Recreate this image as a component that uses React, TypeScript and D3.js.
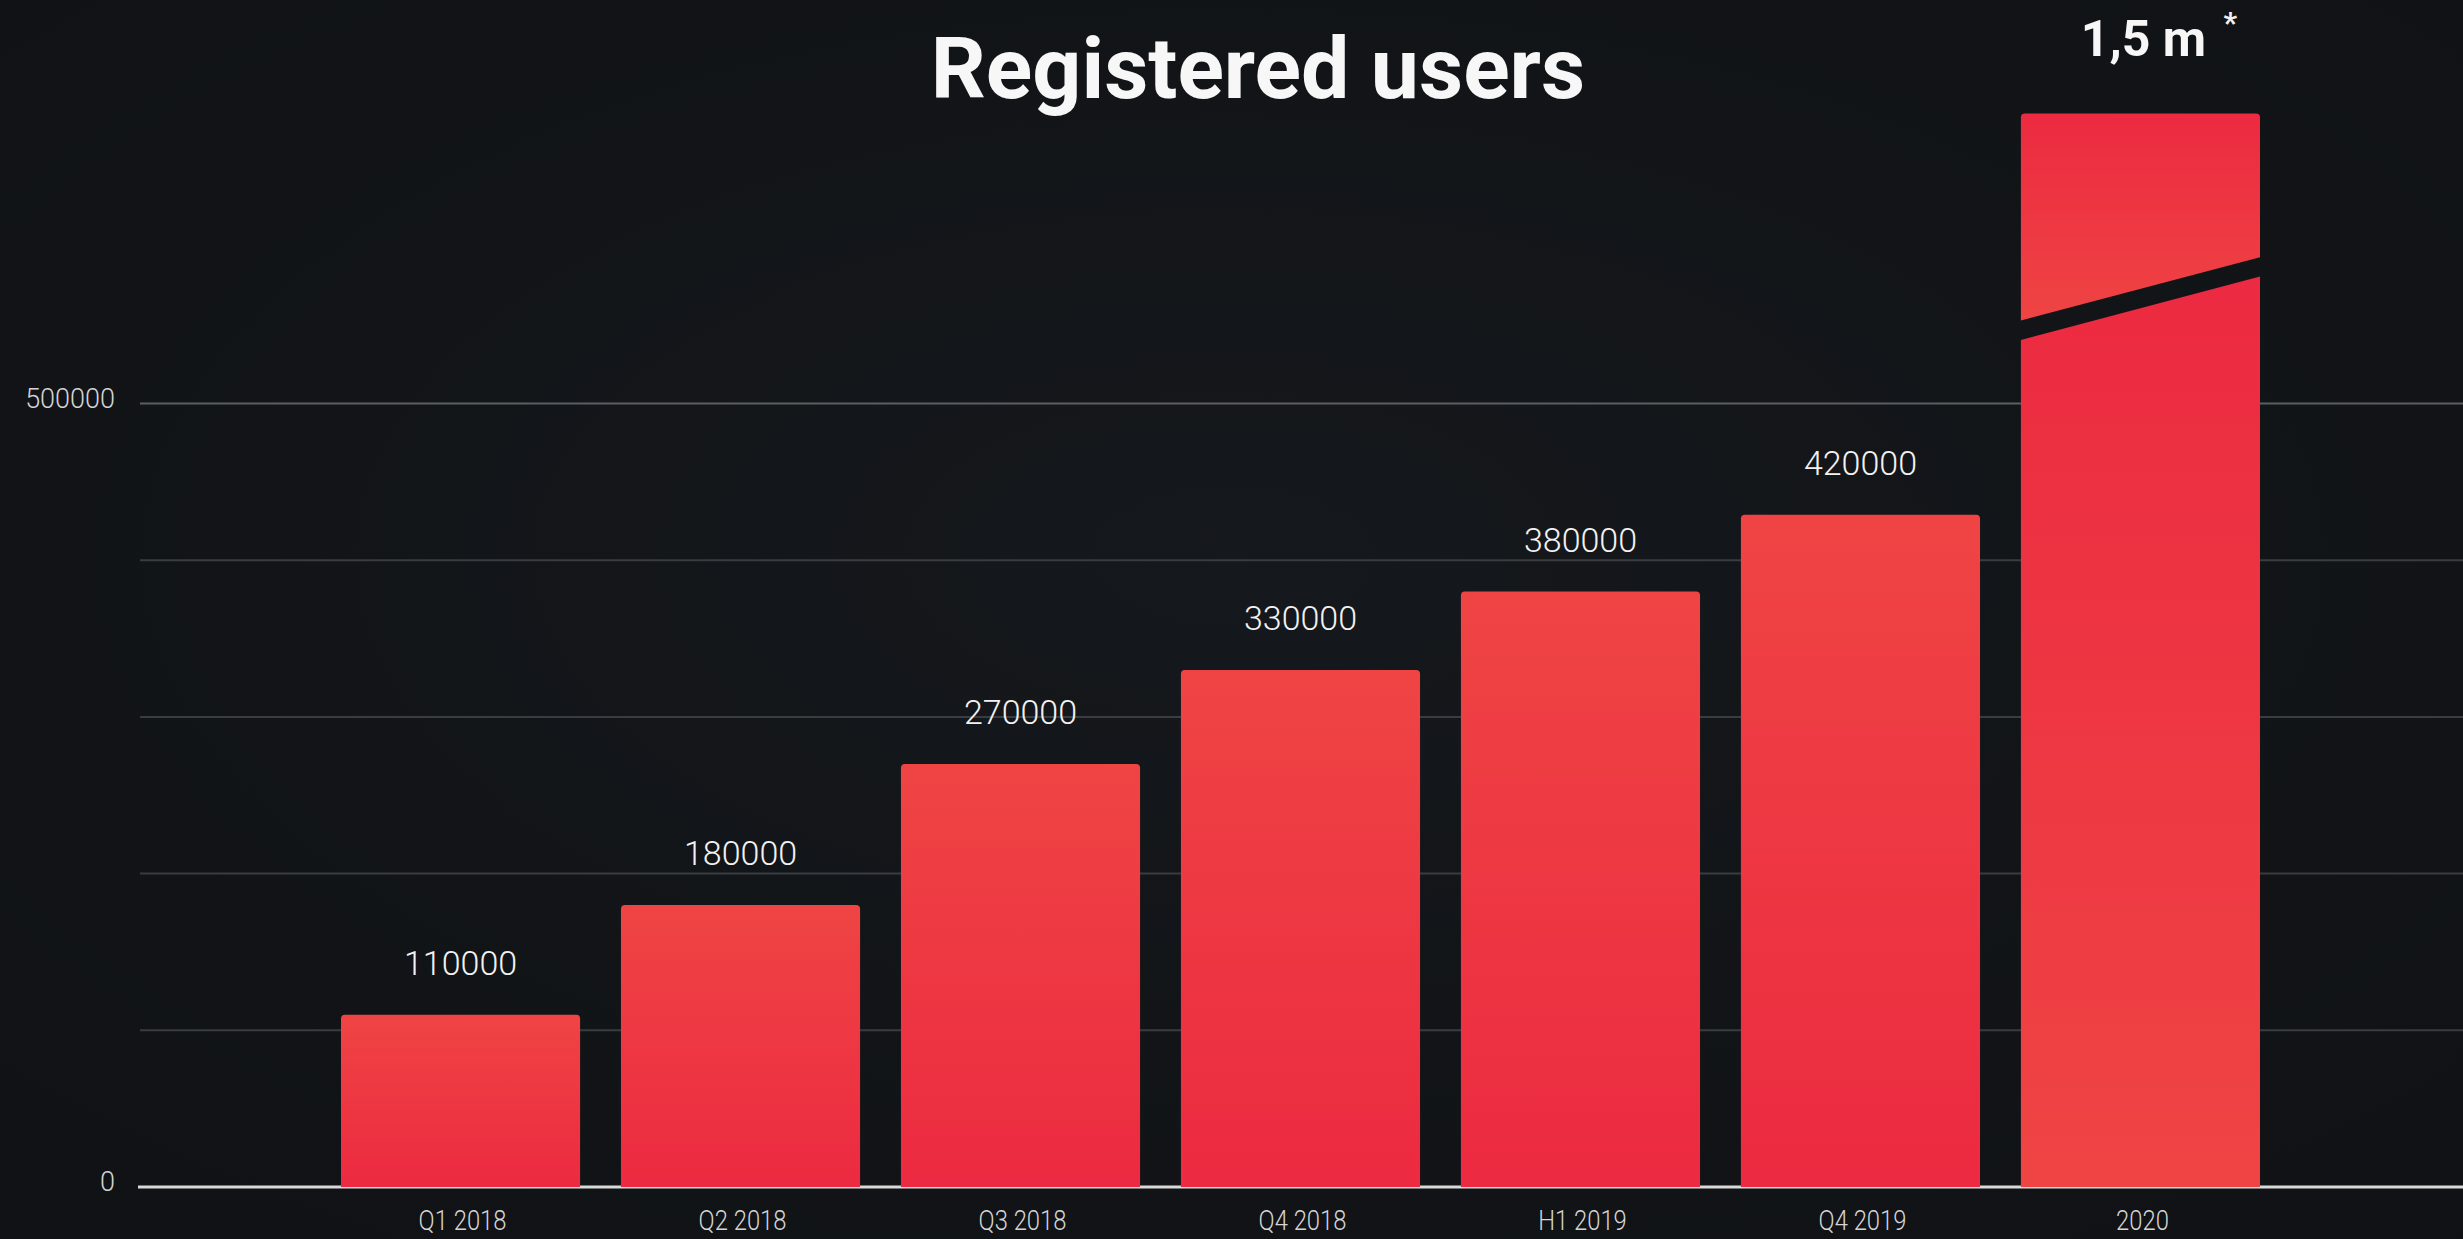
import React from "react";
import * as d3 from "d3";

const categories = ["Q1 2018", "Q2 2018", "Q3 2018", "Q4 2018", "H1 2019", "Q4 2019", "2020"];
const values = [110000, 180000, 270000, 330000, 380000, 429000, 1500000];
const valueLabels = ["110000", "180000", "270000", "330000", "380000", "420000", "1,5 m"];
const yTickLabels = [0, 500000];
const gridValues = [100000, 200000, 300000, 400000, 500000];
// the last bar is cut by an axis break and drawn only up to this value
const brokenBarTop = 685000;
// axis-break band across the last bar: [left edge, right edge] in value units
const breakLowerEdge = [540500, 581000];
const breakUpperEdge = [553000, 593300];

const W = 2463;
const H = 1239;

export default function App() {
  const x = d3.scaleBand<string>().domain(categories).range([138, W]).paddingInner(0.146).paddingOuter(0.725);
  const y = d3.scaleLinear().domain([0, 500000]).range([1187, 403.5]);
  const bw = x.bandwidth();
  const r = 4;
  const lastIdx = values.length - 1;

  const topRoundedRect = (x0: number, y0: number, w: number, y1: number) => {
    const p = d3.path();
    p.moveTo(x0, y1);
    p.lineTo(x0, y0 + r);
    p.quadraticCurveTo(x0, y0, x0 + r, y0);
    p.lineTo(x0 + w - r, y0);
    p.quadraticCurveTo(x0 + w, y0, x0 + w, y0 + r);
    p.lineTo(x0 + w, y1);
    p.closePath();
    return p.toString();
  };

  const brokenTop = (x0: number, w: number) => {
    const y0 = y(brokenBarTop);
    const p = d3.path();
    p.moveTo(x0, y(breakUpperEdge[0]));
    p.lineTo(x0, y0 + r);
    p.quadraticCurveTo(x0, y0, x0 + r, y0);
    p.lineTo(x0 + w - r, y0);
    p.quadraticCurveTo(x0 + w, y0, x0 + w, y0 + r);
    p.lineTo(x0 + w, y(breakUpperEdge[1]));
    p.closePath();
    return p.toString();
  };
  const brokenBottom = (x0: number, w: number) => {
    const p = d3.path();
    p.moveTo(x0, y(breakLowerEdge[0]));
    p.lineTo(x0 + w, y(breakLowerEdge[1]));
    p.lineTo(x0 + w, y(0));
    p.lineTo(x0, y(0));
    p.closePath();
    return p.toString();
  };

  const font = "Roboto, 'Noto Sans', sans-serif";

  return (
    <svg
      width={W}
      height={H}
      style={{ position: "absolute", left: 0, top: 0, display: "block" }}
      xmlns="http://www.w3.org/2000/svg"
    >
      <defs>
        <linearGradient id="barGrad" x1="0" y1="0" x2="0" y2="1">
          <stop offset="0" stopColor="#ef4444" />
          <stop offset="1" stopColor="#ec2a41" />
        </linearGradient>
        <linearGradient id="barGradRev" x1="0" y1="0" x2="0" y2="1">
          <stop offset="0" stopColor="#ec2a41" />
          <stop offset="1" stopColor="#ef4444" />
        </linearGradient>
        <radialGradient id="bg" cx="0.5" cy="0.45" r="0.8">
          <stop offset="0" stopColor="#15181c" />
          <stop offset="1" stopColor="#0f1114" />
        </radialGradient>
      </defs>
      <rect x={0} y={0} width={W} height={H} fill="url(#bg)" />

      {/* grid lines */}
      {gridValues.map((v) => (
        <line
          key={v}
          x1={140}
          x2={W}
          y1={y(v)}
          y2={y(v)}
          stroke={v === 500000 ? "#5b5e62" : "#393c40"}
          strokeWidth={2}
        />
      ))}
      {/* baseline */}
      <line x1={138} x2={W} y1={y(0)} y2={y(0)} stroke="#d9d9d9" strokeWidth={3} />

      {/* y tick labels */}
      {yTickLabels.map((v) => (
        <text
          key={v}
          x={115}
          y={y(v) + 4}
          textAnchor="end"
          fontFamily={font}
          fontWeight={300}
          fontSize={27}
          fill="#d4d4d4"
        >
          {String(v)}
        </text>
      ))}

      {/* bars */}
      {categories.map((c, i) => {
        const x0 = x(c) as number;
        if (i === lastIdx) {
          return (
            <g key={c}>
              <path d={brokenTop(x0, bw)} fill="url(#barGradRev)" />
              <path d={brokenBottom(x0, bw)} fill="url(#barGradRev)" />
            </g>
          );
        }
        return <path key={c} d={topRoundedRect(x0, y(values[i]), bw, y(0))} fill="url(#barGrad)" />;
      })}

      {/* value labels */}
      {categories.map((c, i) => {
        const cx = (x(c) as number) + bw / 2;
        if (i === lastIdx) {
          const ty = y(brokenBarTop);
          return (
            <g key={c}>
              <text
                x={cx + 3}
                y={ty - 58}
                textAnchor="middle"
                fontFamily={font}
                fontWeight={700}
                fontSize={50}
                fill="#f7f7f7"
              >
                {valueLabels[i]}
              </text>
              <text x={cx + 83} y={ty - 81} fontFamily={font} fontWeight={700} fontSize={30} fill="#f0f0f0">
                *
              </text>
            </g>
          );
        }
        return (
          <text
            key={c}
            x={cx}
            y={y(values[i]) - 40}
            textAnchor="middle"
            fontFamily={font}
            fontWeight={300}
            fontSize={34}
            fill="#f2f2f2"
          >
            {valueLabels[i]}
          </text>
        );
      })}

      {/* x axis labels */}
      {categories.map((c) => {
        const cx = (x(c) as number) + bw / 2 + 2;
        return (
          <text
            key={c}
            transform={`translate(${cx},${y(0) + 43}) scale(0.85,1)`}
            textAnchor="middle"
            fontFamily={font}
            fontWeight={300}
            fontSize={28}
            fill="#d6d6d6"
          >
            {c}
          </text>
        );
      })}

      {/* title */}
      <text
        x={1258}
        y={98}
        textAnchor="middle"
        fontFamily={font}
        fontWeight={700}
        fontSize={86}
        fill="#f7f7f7"
      >
        Registered users
      </text>
    </svg>
  );
}
